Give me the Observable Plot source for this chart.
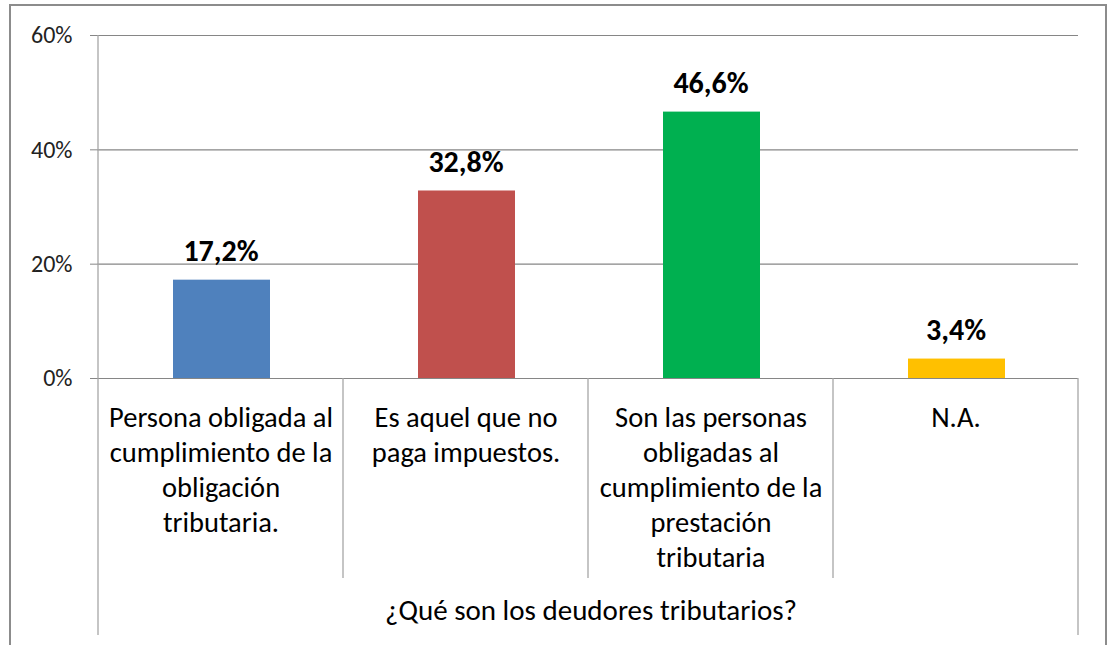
<!DOCTYPE html>
<html><head><meta charset="utf-8">
<script src="https://cdn.jsdelivr.net/npm/d3@7"></script>
<script src="https://cdn.jsdelivr.net/npm/@observablehq/plot@0.6"></script>
<style>
body{margin:0;background:#fff;}
#wrap{position:relative;width:1112px;height:645px;overflow:hidden;background:#fff;}
#wrap svg{position:absolute;left:0;top:0;}
#frame{position:absolute;left:9px;top:4px;width:1098px;height:700px;border:2px solid #8c8c8c;box-sizing:border-box;pointer-events:none;}
</style></head><body><div id="wrap"></div>
<script>
const categories = [
  "Persona obligada al\ncumplimiento de la\nobligación\ntributaria.",
  "Es aquel que no\npaga impuestos.",
  "Son las personas\nobligadas al\ncumplimiento de la\nprestación\ntributaria",
  "N.A."
];
const values = [17.2, 32.8, 46.6, 3.4];
const valueLabels = ["17,2%", "32,8%", "46,6%", "3,4%"];
const colors = ["#4F81BD", "#C0504D", "#00B050", "#FFC000"];
const yTicks = [0, 20, 40, 60];
const xTitle = "¿Qué son los deudores tributarios?";

const data = categories.map((c, i) => ({cat: c, value: values[i], label: valueLabels[i], color: colors[i]}));
const font = "Calibri, Carlito, Lato, sans-serif";

function dividers(index, scales, vals, dim) {
  const x = scales.x, y = scales.y;
  const step = x(categories[1]) - x(categories[0]);
  const y0 = y(0), yTop = y(yTicks[yTicks.length - 1]);
  const edges = categories.map(c => x(c)).concat([x(categories[categories.length - 1]) + step]);
  const g = d3.create("svg:g").attr("stroke", "#a6a6a6").attr("stroke-width", 1.3);
  edges.forEach((e, i) => {
    const outer = i === 0 || i === edges.length - 1;
    const top = i === 0 ? yTop : y0;
    const bottom = outer ? y0 + 257 : y0 + 200;
    g.append("line").attr("x1", e).attr("x2", e).attr("y1", top).attr("y2", bottom);
  });
  return g.node();
}

const catSize = 28.5;
const chart = Plot.plot({
  width: 1112,
  height: 645,
  marginLeft: 97,
  marginRight: 34,
  marginTop: 35,
  marginBottom: 267,
  style: {fontFamily: font, background: "transparent", overflow: "visible"},
  x: {domain: categories, padding: 0, axis: null},
  y: {domain: [0, 60], ticks: yTicks, label: null},
  marks: [
    Plot.ruleY(yTicks, {stroke: "#868686", strokeWidth: 1.2}),
    Plot.barY(data, {x: "cat", y: "value", fill: "color", insetLeft: 75, insetRight: 73}),
    Plot.axisY({ticks: yTicks, tickSize: 7, tickPadding: 18, tickFormat: d => d + "%", fontSize: 24, stroke: "#868686", fill: "#222", label: null}),
    dividers,
    Plot.text(data, {x: "cat", y: "value", text: "label", dy: -19, lineAnchor: "bottom", fontSize: 30, fontWeight: "bold", fill: "#000"}),
    Plot.text(data, {x: "cat", text: "cat", frameAnchor: "bottom", lineAnchor: "top", dy: 24, fontSize: catSize, lineHeight: 35 / catSize, fill: "#000"}),
    Plot.text([xTitle], {frameAnchor: "bottom", lineAnchor: "bottom", dy: 241, dx: 3, fontSize: 29, fill: "#000"})
  ]
});

const wrap = document.getElementById("wrap");
wrap.appendChild(chart);
const frame = document.createElement("div");
frame.id = "frame";
wrap.appendChild(frame);
</script>
</body></html>
